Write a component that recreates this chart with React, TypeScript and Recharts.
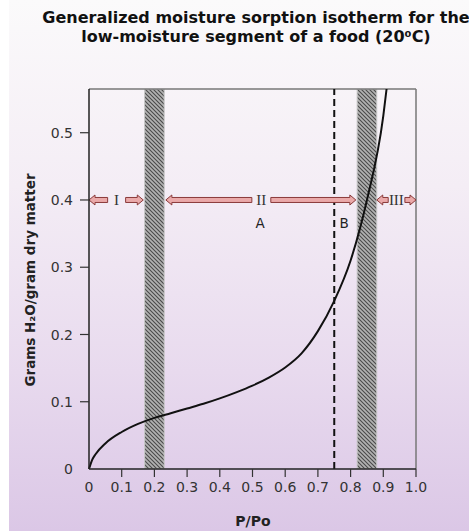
import React from 'react';
import { LineChart, Line, XAxis, YAxis, ReferenceArea, ReferenceLine, ReferenceDot } from 'recharts';

const waterActivity = [0, 0.01, 0.02, 0.05, 0.1, 0.15, 0.2, 0.25, 0.3, 0.35, 0.4, 0.45, 0.5, 0.55, 0.6, 0.65, 0.7, 0.75, 0.8, 0.85, 0.9, 0.91];
const moistureContent = [0, 0.014, 0.022, 0.038, 0.055, 0.067, 0.076, 0.083, 0.09, 0.097, 0.105, 0.114, 0.124, 0.136, 0.151, 0.172, 0.205, 0.25, 0.31, 0.4, 0.525, 0.565];

const xTicks = [0, 0.1, 0.2, 0.3, 0.4, 0.5, 0.6, 0.7, 0.8, 0.9, 1];
const xTickLabels = ['0', '0.1', '0.2', '0.3', '0.4', '0.5', '0.6', '0.7', '0.8', '0.9', '1.0'];
const yTicks = [0, 0.1, 0.2, 0.3, 0.4, 0.5];
const yTickLabels = ['0', '0.1', '0.2', '0.3', '0.4', '0.5'];

const yMax = 0.565;
const hatchBands = [[0.17, 0.23], [0.82, 0.88]];
const criticalLine = 0.75;

const arrowLevel = 0.4;
const arrowSegments: [number, number, 'left' | 'right'][] = [
  [0, 0.057, 'left'],
  [0.112, 0.166, 'right'],
  [0.235, 0.498, 'left'],
  [0.556, 0.816, 'right'],
  [0.88, 0.915, 'left'],
  [0.966, 1.0, 'right'],
];
const regionLabels: [number, string][] = [[0.084, 'I'], [0.527, 'II'], [0.94, 'III']];
const pointLabels: [number, number, string][] = [[0.523, 0.366, 'A'], [0.78, 0.366, 'B']];

const data = waterActivity.map((x, i) => ({ x, m: moistureContent[i] }));

const FONT = '"DejaVu Sans", Verdana, sans-serif';

const Arrow = (props: any) => {
  const { x1, x2, y1, dir } = props;
  const xa = Math.min(x1, x2);
  const xb = Math.max(x1, x2);
  const y = y1;
  const bh = 2.5, hh = 5, hl = 6;
  let pts: number[][];
  if (dir === 'right') {
    pts = [[xa, y - bh], [xb - hl, y - bh], [xb - hl, y - hh], [xb, y], [xb - hl, y + hh], [xb - hl, y + bh], [xa, y + bh]];
  } else {
    pts = [[xb, y - bh], [xa + hl, y - bh], [xa + hl, y - hh], [xa, y], [xa + hl, y + hh], [xa + hl, y + bh], [xb, y + bh]];
  }
  return <polygon points={pts.map(p => p.join(',')).join(' ')} fill="#eaa9a9" stroke="#8a3a3a" strokeWidth={1} />;
};

const XTick = (props: any) => {
  const { x, y, payload } = props;
  const v = payload.value;
  return (
    <g>
      {v !== 0 && <line x1={x} x2={x} y1={y - 12} y2={y - 4} stroke="#333" strokeWidth={1.2} />}
      <text x={x} y={y} dy="0.75em" textAnchor="middle" fill="#333" fontSize={14} fontFamily={FONT}>
        {xTickLabels[xTicks.indexOf(v)] ?? ''}
      </text>
    </g>
  );
};

const YTick = (props: any) => {
  const { x, y, payload } = props;
  const v = payload.value;
  return (
    <g>
      {v !== 0 && <line x1={x + 7} x2={x + 16} y1={y} y2={y} stroke="#333" strokeWidth={1.2} />}
      <text x={x} y={y} dy="0.36em" textAnchor="end" fill="#333" fontSize={14} fontFamily={FONT}>
        {yTickLabels[yTicks.indexOf(v)] ?? ''}
      </text>
    </g>
  );
};

export default function App() {
  return (
    <div style={{ position: 'absolute', left: 0, top: 0, width: 469, height: 531, background: 'linear-gradient(#fbfafb 0%, #f4edf5 35%, #e8daee 70%, #dbc7e6 100%)', overflow: 'hidden' }}>
      <div style={{ position: 'absolute', left: 0, top: 0, width: 9, height: 531, background: '#ffffff' }} />
      <div style={{ position: 'absolute', left: 0, top: 0 }}>
        <LineChart width={469} height={531} data={data} margin={{ top: 89, right: 53, bottom: 0, left: 0 }}>
          <defs>
            <pattern id="hatch" patternUnits="userSpaceOnUse" width={4} height={4}>
              <rect x={0} y={0} width={4} height={4} fill="#b2b2b2" />
              <path d="M-1,-1 L5,5 M-1,3 L1,5 M3,-1 L5,1" stroke="#4a4a4a" strokeWidth={1.1} />
            </pattern>
          </defs>
          <XAxis
            type="number"
            dataKey="x"
            domain={[0, 1]}
            ticks={xTicks}
            height={62}
            tickSize={8}
            tickMargin={4}
            tickLine={false}
            tick={<XTick />}
            axisLine={{ stroke: '#222', strokeWidth: 1.5 }}
            interval={0}
          />
          <YAxis
            type="number"
            domain={[0, yMax]}
            ticks={yTicks}
            width={89}
            tickSize={9}
            tickMargin={7}
            tickLine={false}
            tick={<YTick />}
            axisLine={{ stroke: '#222', strokeWidth: 1.5 }}
            allowDataOverflow
            interval={0}
          />
          {hatchBands.map(([a, b], i) => (
            <ReferenceArea key={'band' + i} x1={a} x2={b} y1={0} y2={yMax} fill="url(#hatch)" fillOpacity={1} stroke="#c8c8c8" strokeWidth={1} ifOverflow="hidden" />
          ))}
          <ReferenceLine y={yMax} stroke="#777" strokeWidth={1.5} />
          <ReferenceLine x={1} stroke="#777" strokeWidth={1.5} />
          <ReferenceLine x={criticalLine} stroke="#111" strokeWidth={2} strokeDasharray="7 4" />
          {arrowSegments.map(([a, b, dir], i) => (
            <ReferenceLine
              key={'arr' + i}
              segment={[{ x: a, y: arrowLevel }, { x: b, y: arrowLevel }]}
              shape={(p: any) => <Arrow {...p} dir={dir} />}
              ifOverflow="visible"
            />
          ))}
          {regionLabels.map(([x, t], i) => (
            <ReferenceDot
              key={'rl' + i}
              x={x}
              y={arrowLevel}
              r={0}
              ifOverflow="visible"
              shape={(p: any) => (
                <text x={p.cx} y={p.cy} dy="0.36em" textAnchor="middle" fill="#333" fontSize={15} fontFamily='"Liberation Serif", "DejaVu Serif", serif'>{t}</text>
              )}
            />
          ))}
          {pointLabels.map(([x, y, t], i) => (
            <ReferenceDot
              key={'pl' + i}
              x={x}
              y={y}
              r={0}
              ifOverflow="visible"
              shape={(p: any) => (
                <text x={p.cx} y={p.cy} dy="0.36em" textAnchor="middle" fill="#222" fontSize={13.5} fontFamily={FONT}>{t}</text>
              )}
            />
          ))}
          <Line type="monotone" dataKey="m" stroke="#111" strokeWidth={2} dot={false} isAnimationActive={false} />
        </LineChart>
      </div>
      <svg width={469} height={531} style={{ position: 'absolute', left: 0, top: 0, pointerEvents: 'none' }}>
        <text x={256} y={23} textAnchor="middle" fontFamily={FONT} fontWeight="bold" fontSize={16} fill="#111">Generalized moisture sorption isotherm for the</text>
        <text x={256} y={42} textAnchor="middle" fontFamily={FONT} fontWeight="bold" fontSize={16} fill="#111">low-moisture segment of a food (20⁰C)</text>
        <text x={35} y={280} transform="rotate(-90 35 280)" textAnchor="middle" fontFamily={FONT} fontWeight="bold" fontSize={13.5} fill="#222">Grams H₂O/gram dry matter</text>
        <text x={253} y={526} textAnchor="middle" fontFamily={FONT} fontWeight="bold" fontSize={14} fill="#222">P/Po</text>
      </svg>
    </div>
  );
}
